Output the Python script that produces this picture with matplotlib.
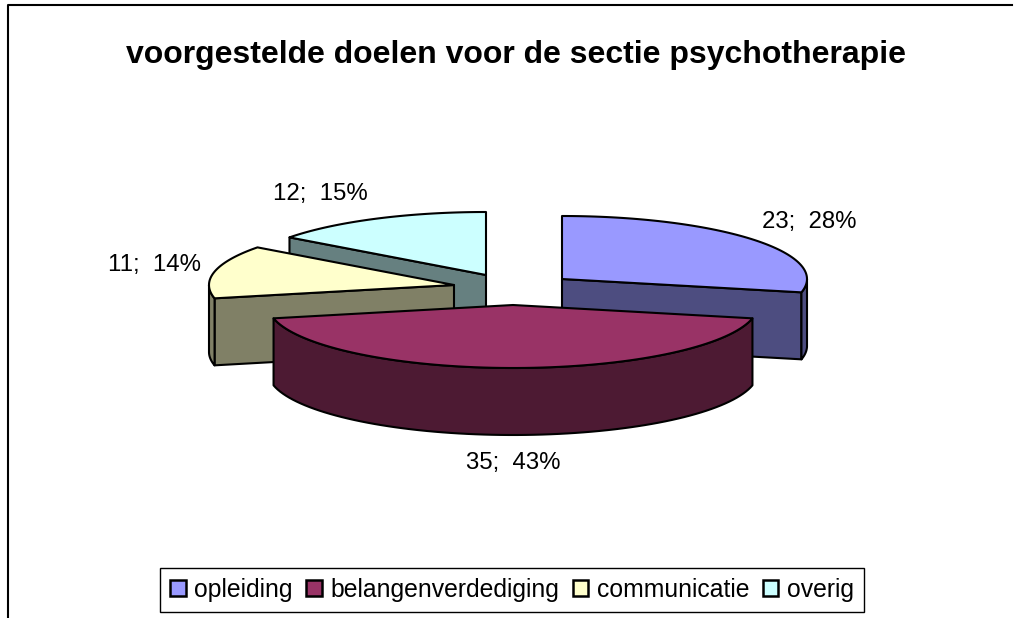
import numpy as np
import matplotlib
matplotlib.use('Agg')
import matplotlib.pyplot as plt
from matplotlib.patches import Polygon, Patch

plt.rcParams['font.family'] = ['Liberation Sans', 'DejaVu Sans']

# data
categories = ['opleiding', 'belangenverdediging', 'communicatie', 'overig']
values = [23, 35, 11, 12]
percents = [28, 43, 14, 15]
colors = ['#9999FF', '#993366', '#FFFFCC', '#CCFFFF']
side_colors = ['#4D4D80', '#4D1A33', '#808066', '#668080']

# layout in pixels
tips = [(562, 279), (513, 305), (454, 285), (486, 275)]
label_pos = [(809, 222), (513, 463), (154, 265), (320, 194)]
rx, ry, depth = 245, 63, 67


def rim(tip, a, b):
    t = np.radians(np.linspace(a, b, 80))
    return np.column_stack([tip[0] + rx * np.sin(t), tip[1] - ry * np.cos(t)])


fig = plt.figure(figsize=(10.16, 6.18), dpi=100)
ax = fig.add_axes([0, 0, 1, 1])
ax.set_xlim(0, 1016)
ax.set_ylim(618, 0)
ax.axis('off')

# chart frame, only top and left are in the image
ax.plot([1012, 8, 8], [5, 5, 618], color='black', lw=1.5)

edges = np.cumsum([0] + values) / sum(values) * 360
down = np.array([0, depth])
for i in [3, 0, 2, 1]:
    tip, a, b = tips[i], edges[i], edges[i + 1]
    # cut faces turned to the viewer
    for ang, show in [(a, np.sin(np.radians(a)) < -1e-6), (b, np.sin(np.radians(b)) > 1e-6)]:
        if show:
            p = rim(tip, ang, ang)[0]
            quad = [tip, p, p + down, np.array(tip) + down]
            ax.add_patch(Polygon(quad, fc=side_colors[i], ec='black', lw=1.5, joinstyle='round'))
    # outer wall, front half only
    lo, hi = max(a, 90), min(b, 270)
    if lo < hi:
        arc = rim(tip, lo, hi)
        wall = np.vstack([arc, arc[::-1] + down])
        ax.add_patch(Polygon(wall, fc=side_colors[i], ec='black', lw=1.5, joinstyle='round'))
    top = np.vstack([[tip], rim(tip, a, b)])
    ax.add_patch(Polygon(top, fc=colors[i], ec='black', lw=1.5, joinstyle='round'))

for i in range(4):
    ax.text(label_pos[i][0], label_pos[i][1], f'{values[i]};  {percents[i]}%',
            fontsize=17.3, ha='center', va='center', color='black')

ax.text(516, 55, 'voorgestelde doelen voor de sectie psychotherapie',
        fontsize=23, fontweight='bold', ha='center', va='center')

handles = [Patch(fc=c, ec='black', lw=1.8) for c in colors]
leg = ax.legend(handles, categories, ncol=4, loc='center', bbox_to_anchor=(512, 590),
                bbox_transform=ax.transData, fontsize=17.8, frameon=True, fancybox=False,
                edgecolor='black', framealpha=1, handlelength=0.62, handleheight=0.6,
                handletextpad=0.35, columnspacing=0.55, borderpad=0.42)
leg.get_frame().set_linewidth(1.0)

fig.savefig('out.png', dpi=100)
